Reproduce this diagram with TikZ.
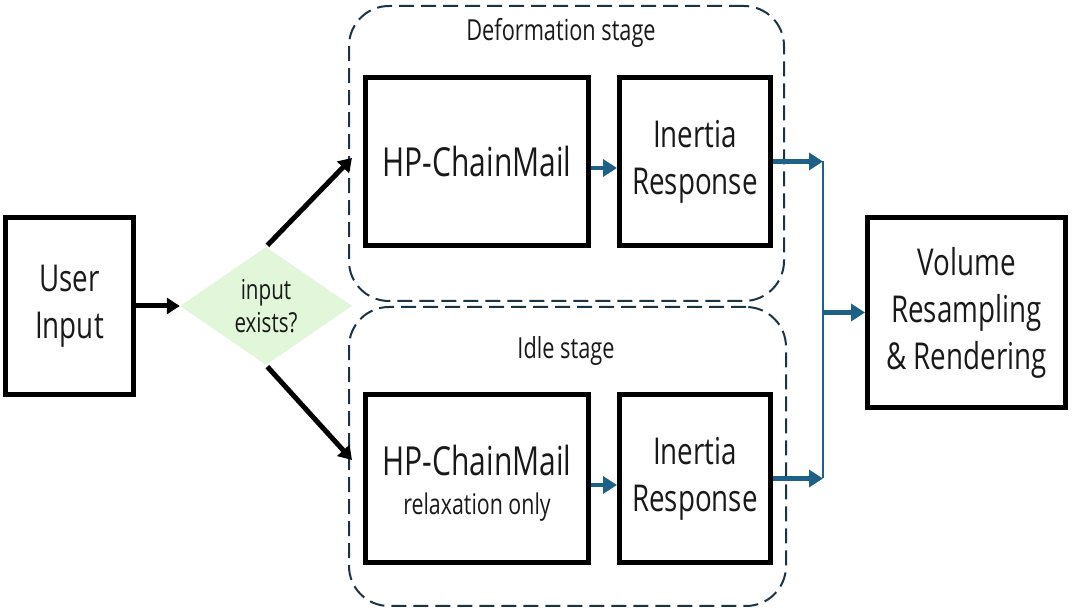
\documentclass[tikz,border=0pt]{standalone}
\usepackage{fontspec}
\setmainfont{Open Sans}[FakeStretch=0.75]
\usetikzlibrary{arrows.meta,shapes.geometric}
\definecolor{bluec}{HTML}{1D6187}
\definecolor{greenc}{HTML}{E2F7DA}
\definecolor{dashc}{HTML}{1B3445}
\begin{document}
\begin{tikzpicture}[x=1pt,y=-1pt,
  box/.style={draw, line width=5pt, inner sep=0pt, align=center, text=black!90},
  stagebox/.style={draw=dashc, line width=2pt, dash pattern=on 15pt off 7pt, rounded corners=40pt, inner sep=0pt},
  stagelabel/.style={font=\fontsize{29}{34}\selectfont, text=black!90, inner sep=0pt},
  bigtext/.style={font=\fontsize{37}{47}\selectfont},
  barrow/.style={draw=black, line width=5pt, -{Triangle[length=13pt,width=16pt]}},
  blarrow/.style={draw=bluec, line width=4.5pt, -{Triangle[length=14pt,width=17pt]}},
  bline/.style={draw=bluec, line width=2pt}]
\useasboundingbox (0,0) rectangle (1072,609);
% stage containers
\node[stagebox, minimum width=435pt, minimum height=295pt] (deform) at (566.5,153.5) {};
\node[stagebox, minimum width=437pt, minimum height=299pt] (idle) at (567.5,456.5) {};
\node[stagelabel] (deflabel) at (561,33) {Deformation stage};
\node[stagelabel] (idlelabel) at (566,351) {Idle stage};
% boxes
\node[box, bigtext, minimum width=128pt, minimum height=177pt] (ui) at (69.5,306) {User\\Input};
\node[diamond, fill=greenc, minimum width=172pt, minimum height=118pt, aspect=1.46, inner sep=0pt,
      align=center, font=\fontsize{27.5}{33}\selectfont, text=black!90] (dec) at (266,306) {input\\exists?};
\node[box, font=\fontsize{40}{46}\selectfont, minimum width=223pt, minimum height=168pt] (hp1) at (477,161.5) {HP-ChainMail};
\node[box, bigtext, minimum width=151pt, minimum height=168pt] (ir1) at (695,161.5) {Inertia\\Response};
\node[box, font=\fontsize{40}{39}\selectfont, minimum width=223pt, minimum height=168pt] (hp2) at (477,478.5) {\rule{0pt}{40pt}HP-ChainMail\\{\fontsize{28.5}{39}\selectfont relaxation only}};
\node[box, bigtext, minimum width=151pt, minimum height=168pt] (ir2) at (695,478.5) {Inertia\\Response};
\node[box, bigtext, minimum width=198pt, minimum height=190pt] (vol) at (966.5,312.5) {Volume\\Resampling\\\& Rendering};
% coordinates
\coordinate (t1) at (352,158);
\coordinate (t2) at (352,460);
\coordinate (j1) at (823,161.5);
\coordinate (j2) at (823,478.5);
% connectors
\draw[barrow] (ui.east) -- (dec.west);
\draw[barrow, shorten <=2pt] (dec.north) -- (t1);
\draw[barrow, shorten <=2pt] (dec.south) -- (t2);
\draw[blarrow] ([yshift=-6.5pt]hp1.east) -- ([yshift=-6.5pt]ir1.west);
\draw[blarrow] ([yshift=-6.5pt]hp2.east) -- ([yshift=-6.5pt]ir2.west);
\draw[bline] (j1) -- (j2);
\draw[blarrow] (ir1.east) -- (j1);
\draw[blarrow] (ir2.east) -- (j2);
\draw[blarrow] (vol.west -| j1) -- (vol.west);
\end{tikzpicture}
\end{document}
